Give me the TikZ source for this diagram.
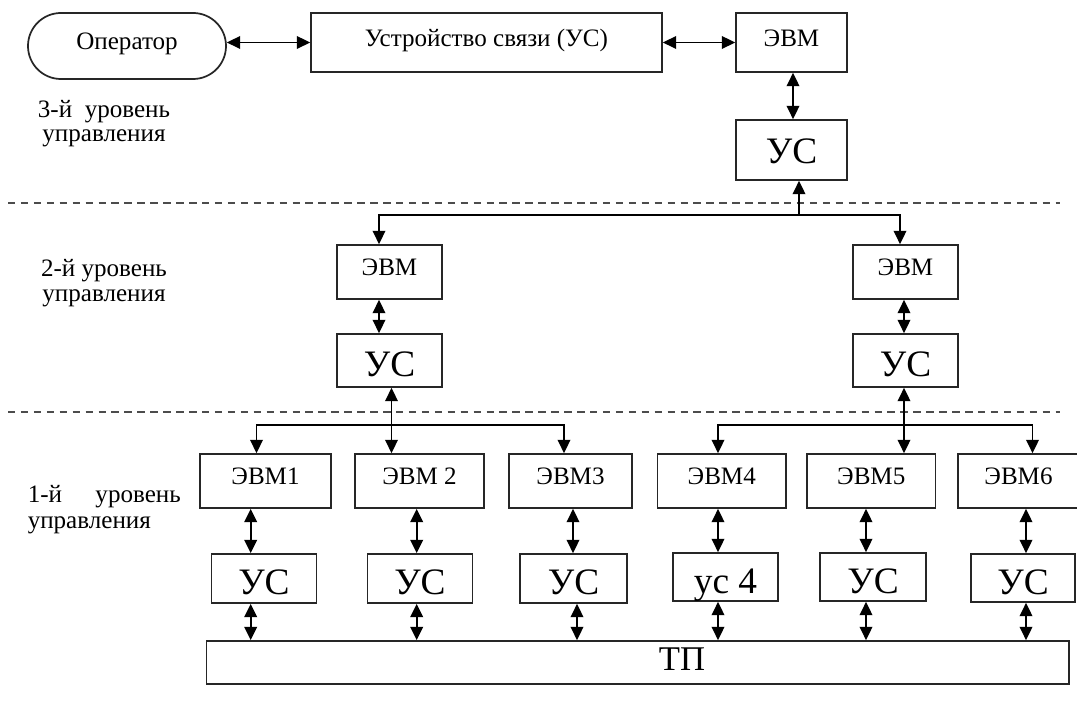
\documentclass[tikz,border=0pt]{standalone}
\usepackage{fontspec}
\setmainfont{Liberation Serif}
\usetikzlibrary{arrows.meta}
% box from pixel corners (x1,y1)-(x2,y2)
\newcommand\mkbox[7]{%
  \pgfmathsetmacro\bxw{(#5-#3)*0.75}%
  \pgfmathsetmacro\bxh{(#6-#4)*0.75}%
  \pgfmathsetmacro\bxcx{(#3+#5)/2}%
  \pgfmathsetmacro\bxcy{(#4+#6)/2}%
  \node[#1,minimum width=\bxw pt,minimum height=\bxh pt] (#2) at (\bxcx,\bxcy) {#7};}
\begin{document}
\begin{tikzpicture}[x=0.75pt,y=-0.75pt,
  >={Triangle[length=10pt,width=9.5pt]},
  frame/.style={draw=black!85,line width=1.3pt,inner sep=0pt,outer sep=0.65pt},
  bx/.style={frame,font=\fontsize{18.8pt}{22pt}\selectfont,text height=12.8pt,text depth=7.5pt},
  bigbx/.style={frame,font=\fontsize{28pt}{32pt}\selectfont,text height=24.5pt,text depth=0pt},
  topbig/.style={bigbx,text height=20pt},
  arr/.style={->,line width=1.3pt},
  darr/.style={<->,line width=1.3pt},
  lvl/.style={inner sep=0pt,font=\fontsize{18.8pt}{22pt}\selectfont},
  dashln/.style={draw=black!70,line width=1.4pt,dash pattern=on 5.6pt off 4.1pt}]
\useasboundingbox (0,0) rectangle (1077,705);

% level 3
\mkbox{bx,rounded corners=24.7pt}{op}{28}{13}{226}{79}{Оператор}
\mkbox{bx}{dev}{311}{13}{662}{72}{Устройство связи (УС)}
\mkbox{bx}{evm0}{736}{13}{847}{72}{ЭВМ}
\mkbox{topbig}{us0}{736}{120}{847}{180}{УС}

% level 2
\mkbox{bx}{evmL}{337}{245}{442}{299}{ЭВМ}
\mkbox{bigbx}{usL}{337}{334}{442}{387}{УС}
\mkbox{bx}{evmR}{853}{245}{958}{299}{ЭВМ}
\mkbox{bigbx}{usR}{853}{334}{958}{387}{УС}

% level 1
\mkbox{bx}{e1}{200}{454}{331}{508}{ЭВМ1}
\mkbox{bx}{e2}{355}{454}{484}{508}{ЭВМ 2}
\mkbox{bx}{e3}{509}{454}{632}{508}{ЭВМ3}
\mkbox{bx}{e4}{657.5}{454}{786}{508}{ЭВМ4}
\mkbox{bx}{e5}{807}{454}{935.5}{508}{ЭВМ5}
\mkbox{bx}{e6}{958}{454}{1079}{508}{ЭВМ6}
\mkbox{bigbx}{u1}{211.4}{554}{316.5}{603}{УС}
\mkbox{bigbx}{u2}{367.4}{554}{472.5}{603}{УС}
\mkbox{bigbx}{u3}{520}{554}{627}{603}{УС}
\mkbox{bigbx}{u4}{673}{553}{778}{601}{ус 4}
\mkbox{bigbx}{u5}{820}{553}{926}{601}{УС}
\mkbox{bigbx}{u6}{971}{554}{1075}{602}{УС}
\mkbox{frame}{tp}{206.6}{641}{1069}{684}{}
\node[inner sep=0pt,anchor=base,font=\fontsize{26pt}{30pt}\selectfont] (tplabel) at (682,670) {ТП};

% level labels
\node[lvl,anchor=base] (l3a) at (104,118) {3-й\ \ уровень};
\node[lvl,anchor=base] (l3b) at (104,142) {управления};
\node[lvl,anchor=base] (l2a) at (104,277) {2-й уровень};
\node[lvl,anchor=base] (l2b) at (104,302) {управления};
\node[lvl,anchor=base west] (l1a) at (27.5,502) {1-й};
\node[lvl,anchor=base east] (l1b) at (181,502) {уровень};
\node[lvl,anchor=base west] (l1c) at (27.5,528) {управления};

% dashed separators
\draw[dashln] (8,203) -- (1060,203);
\draw[dashln] (8,412) -- (1060,412);

% column coordinates
\coordinate (c0) at (793,0);
\coordinate (b2) at (799,215);
\coordinate (cL) at (379,0);
\coordinate (cR) at (900,0);
\coordinate (cR2) at (904,0);
\coordinate (bL) at (391.5,425);
\coordinate (bR) at (904,425);
\coordinate (x1) at (256.5,0);
\coordinate (x3) at (564,0);
\coordinate (x4) at (718,0);
\coordinate (x6) at (1032.5,0);
\coordinate (k1) at (250.7,0);
\coordinate (k2) at (416.7,0);
\coordinate (k3) at (573,0);
\coordinate (k3b) at (577,0);
\coordinate (k4) at (718,0);
\coordinate (k5) at (866,0);
\coordinate (k6) at (1026,0);

% level 3 connectors
\draw[darr] (op.east |- dev.west) -- (dev.west);
\draw[darr] (dev.east) -- (evm0.west |- dev.east);
\draw[darr] (evm0.south -| c0) -- (us0.north -| c0);

% level 2 bus
\draw[arr] (b2) -- (us0.south -| b2);
\draw[arr] (b2) -| (evmL.north -| cL);
\draw[arr] (b2) -| (evmR.north -| cR);
\draw[darr] (evmL.south -| cL) -- (usL.north -| cL);
\draw[darr] (evmR.south -| cR2) -- (usR.north -| cR2);

% level 1 buses
\draw[arr] (bL) -- (usL.south -| bL);
\draw[arr] (bL) -| (e1.north -| x1);
\draw[arr] (bL) -- (e2.north -| bL);
\draw[arr] (bL) -| (e3.north -| x3);
\draw[arr] (bR) -- (usR.south -| bR);
\draw[arr] (bR) -| (e4.north -| x4);
\draw[arr] (bR) -- (e5.north -| bR);
\draw[arr] (bR) -| (e6.north -| x6);

% level 1 vertical links
\draw[darr] (e1.south -| k1) -- (u1.north -| k1);
\draw[darr] (e2.south -| k2) -- (u2.north -| k2);
\draw[darr] (e3.south -| k3) -- (u3.north -| k3);
\draw[darr] (e4.south -| k4) -- (u4.north -| k4);
\draw[darr] (e5.south -| k5) -- (u5.north -| k5);
\draw[darr] (e6.south -| k6) -- (u6.north -| k6);
\draw[darr] (u1.south -| k1) -- (tp.north -| k1);
\draw[darr] (u2.south -| k2) -- (tp.north -| k2);
\draw[darr] (u3.south -| k3b) -- (tp.north -| k3b);
\draw[darr] (u4.south -| k4) -- (tp.north -| k4);
\draw[darr] (u5.south -| k5) -- (tp.north -| k5);
\draw[darr] (u6.south -| k6) -- (tp.north -| k6);
\end{tikzpicture}
\end{document}
